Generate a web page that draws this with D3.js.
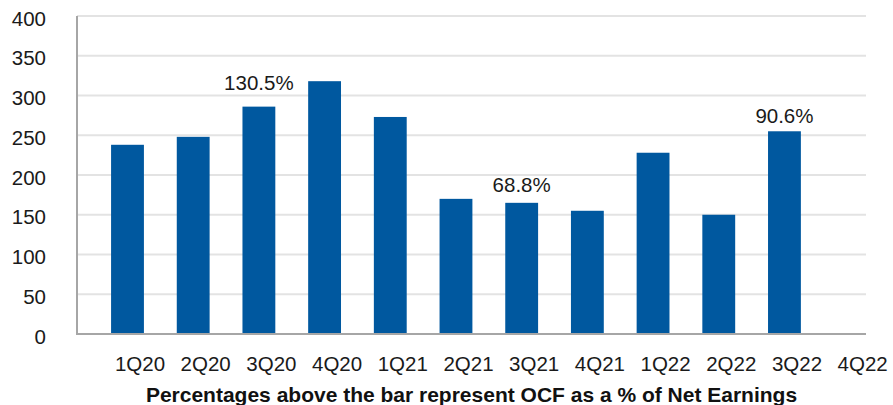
<!DOCTYPE html>
<html><head><meta charset="utf-8">
<script src="https://cdn.jsdelivr.net/npm/d3@7"></script>
<style>body{margin:0;background:#fff}svg{display:block}</style>
</head><body>
<svg id="c" width="893" height="405"></svg>
<script>
const categories = ["1Q20","2Q20","3Q20","4Q20","1Q21","2Q21","3Q21","4Q21","1Q22","2Q22","3Q22","4Q22"];
const values = [238,248,286,318,273,170,165,155,228,150,255,null];
const yTicks = [0,50,100,150,200,250,300,350,400];
const annotCats = ["3Q20","3Q21","3Q22"];
const annotTexts = ["130.5%","68.8%","90.6%"];
const annotLevels = [307,179,265];
const footnote = "Percentages above the bar represent OCF as a % of Net Earnings";

const svg = d3.select("#c");
const font = "Liberation Sans, Arial, sans-serif";
const y = d3.scaleLinear().domain([0,400]).range([334,16]);
const x = d3.scaleBand().domain(categories).range([94.65,883]).paddingInner(0.5).paddingOuter(0.25);
const plotL = 77, plotR = 866;

// gridlines
svg.append("g").selectAll("line").data(yTicks.filter(d=>d>0)).join("line")
  .attr("x1",plotL).attr("x2",plotR).attr("y1",d=>y(d)).attr("y2",d=>y(d))
  .attr("stroke","#e3e3e3").attr("stroke-width",2);

// bars
svg.append("g").selectAll("rect").data(categories.map((c,i)=>({c,v:values[i]})).filter(d=>d.v!=null)).join("rect")
  .attr("x",d=>x(d.c)).attr("width",x.bandwidth())
  .attr("y",d=>y(d.v)).attr("height",d=>y(0)-y(d.v))
  .attr("fill","#00589f");

// y axis
const ya = svg.append("g").attr("transform",`translate(${plotL},0)`)
  .call(d3.axisLeft(y).tickValues(yTicks).tickSize(0).tickPadding(31));
ya.select(".domain").attr("stroke","#a6a6a6").attr("stroke-width",2).attr("d",`M0,${y(400)}V${y(0)+1}`);
ya.selectAll("text").attr("font-family",font).attr("font-size",20.5).attr("fill","#1a1a1a").attr("dy","0.45em");

// x axis
const xa = svg.append("g").attr("transform",`translate(0,${y(0)})`)
  .call(d3.axisBottom(x).tickSize(0).tickPadding(22));
xa.select(".domain").attr("stroke","#a6a6a6").attr("stroke-width",2).attr("d",`M${plotL-1},0H${plotR}`);
xa.selectAll("text").attr("font-family",font).attr("font-size",20.5).attr("fill","#1a1a1a").attr("dx",12.5);

// annotations
svg.append("g").selectAll("text").data(annotCats.map((c,i)=>({c,t:annotTexts[i],l:annotLevels[i]}))).join("text")
  .attr("x",d=>x(d.c)+x.bandwidth()/2).attr("y",d=>y(d.l))
  .attr("text-anchor","middle").attr("font-family",font).attr("font-size",20.5).attr("fill","#1a1a1a")
  .text(d=>d.t);

// footnote
svg.append("text").attr("x",471.5).attr("y",402).attr("text-anchor","middle")
  .attr("font-family",font).attr("font-weight","bold").attr("font-size",21).attr("fill","#111")
  .text(footnote);
</script>
</body></html>
